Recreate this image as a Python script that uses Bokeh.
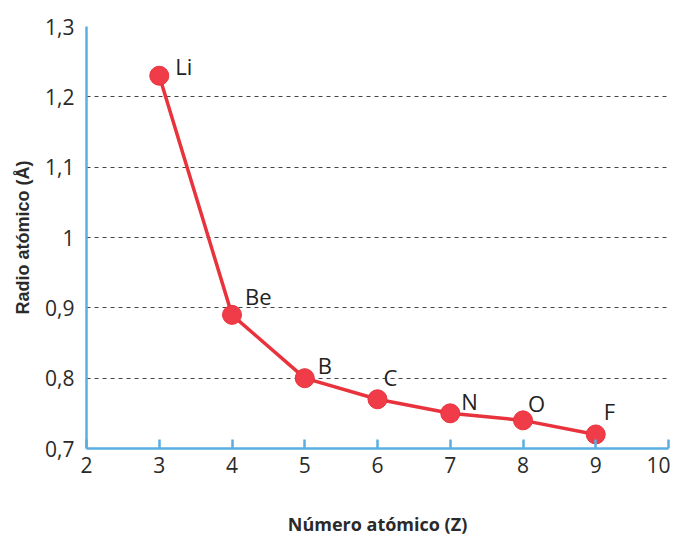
from bokeh.plotting import figure
from bokeh.models import ColumnDataSource, Range1d, FixedTicker, LabelSet, CustomJSTickFormatter
from bokeh.core.properties import value
from bokeh.embed import file_html
from bokeh.resources import INLINE

# Data
elements = ["Li", "Be", "B", "C", "N", "O", "F"]
atomic_number = [3, 4, 5, 6, 7, 8, 9]
radius = [1.23, 0.89, 0.80, 0.77, 0.75, 0.74, 0.72]
x_ticks = [2, 3, 4, 5, 6, 7, 8, 9, 10]
y_ticks = [0.7, 0.8, 0.9, 1.0, 1.1, 1.2, 1.3]

# label offsets (screen px), style only
lab_dx = [16, 13, 13, 6, 11, 5, 8]
lab_dy = [1, 10, 4, 13, 3, 8, 14]

src = ColumnDataSource(dict(x=atomic_number, y=radius, name=elements, dx=lab_dx, dy=lab_dy))

p = figure(width=670, height=542, output_backend="svg", toolbar_location=None,
           x_range=Range1d(2, 10), y_range=Range1d(0.7, 1.3),
           min_border_left=86, min_border_right=2, min_border_top=26, min_border_bottom=94)
p.outline_line_color = None
p.background_fill_color = "white"

axis_blue = "#5aaee2"
font = "Open Sans"

# x axis
p.xaxis.ticker = FixedTicker(ticks=x_ticks)
p.xaxis.axis_line_color = axis_blue
p.xaxis.axis_line_width = 2.5
p.xaxis.major_tick_line_color = axis_blue
p.xaxis.major_tick_line_width = 2.5
p.xaxis.major_tick_in = 9
p.xaxis.major_tick_out = 0
p.xaxis.minor_tick_line_color = None
p.xaxis.major_label_text_font = font
p.xaxis.major_label_text_font_size = "21px"
p.xaxis.major_label_text_color = "#2a2a2a"
p.xaxis.major_label_standoff = 8
p.xaxis.axis_label = "Número atómico (Z)"
p.xaxis.axis_label_text_font = font
p.xaxis.axis_label_text_font_style = "bold"
p.xaxis.axis_label_text_font_size = "18px"
p.xaxis.axis_label_text_color = "#2a2a2a"
p.xaxis.axis_label_standoff = 36

# y axis
p.yaxis.ticker = FixedTicker(ticks=y_ticks)
p.yaxis.formatter = CustomJSTickFormatter(code="""
    const v = Math.round(tick*10)/10;
    if (Math.abs(v - Math.round(v)) < 1e-9) { return String(Math.round(v)); }
    return v.toFixed(1).replace('.', ',');
""")
p.yaxis.axis_line_color = axis_blue
p.yaxis.axis_line_width = 2.5
p.yaxis.major_tick_line_color = None
p.yaxis.minor_tick_line_color = None
p.yaxis.major_label_text_font = font
p.yaxis.major_label_text_font_size = "21px"
p.yaxis.major_label_text_color = "#2a2a2a"
p.yaxis.major_label_standoff = 6
p.yaxis.axis_label = "Radio atómico (Å)"
p.yaxis.axis_label_text_font = "Liberation Sans"
p.yaxis.axis_label_text_font_style = "bold"
p.yaxis.axis_label_text_font_size = "18px"
p.yaxis.axis_label_text_color = "#2a2a2a"
p.yaxis.axis_label_standoff = 9

# grid
p.xgrid.grid_line_color = None
p.ygrid.ticker = FixedTicker(ticks=[0.8, 0.9, 1.0, 1.1, 1.2])
p.ygrid.grid_line_color = "#444444"
p.ygrid.grid_line_dash = "4 4"
p.ygrid.grid_line_width = 1.2

# series
p.line("x", "y", source=src, line_color="#e8323c", line_width=3.5)
p.scatter("x", "y", source=src, size=19, fill_color="#f03c48", line_color="#e8323c")

labels = LabelSet(x="x", y="y", text="name", source=src, x_offset="dx", y_offset="dy",
                  text_font=value(font), text_font_size="22px", text_color="#222222",
                  text_baseline="alphabetic", text_align="left")
p.add_layout(labels)

open("out.html", "w").write(file_html(p, INLINE))
